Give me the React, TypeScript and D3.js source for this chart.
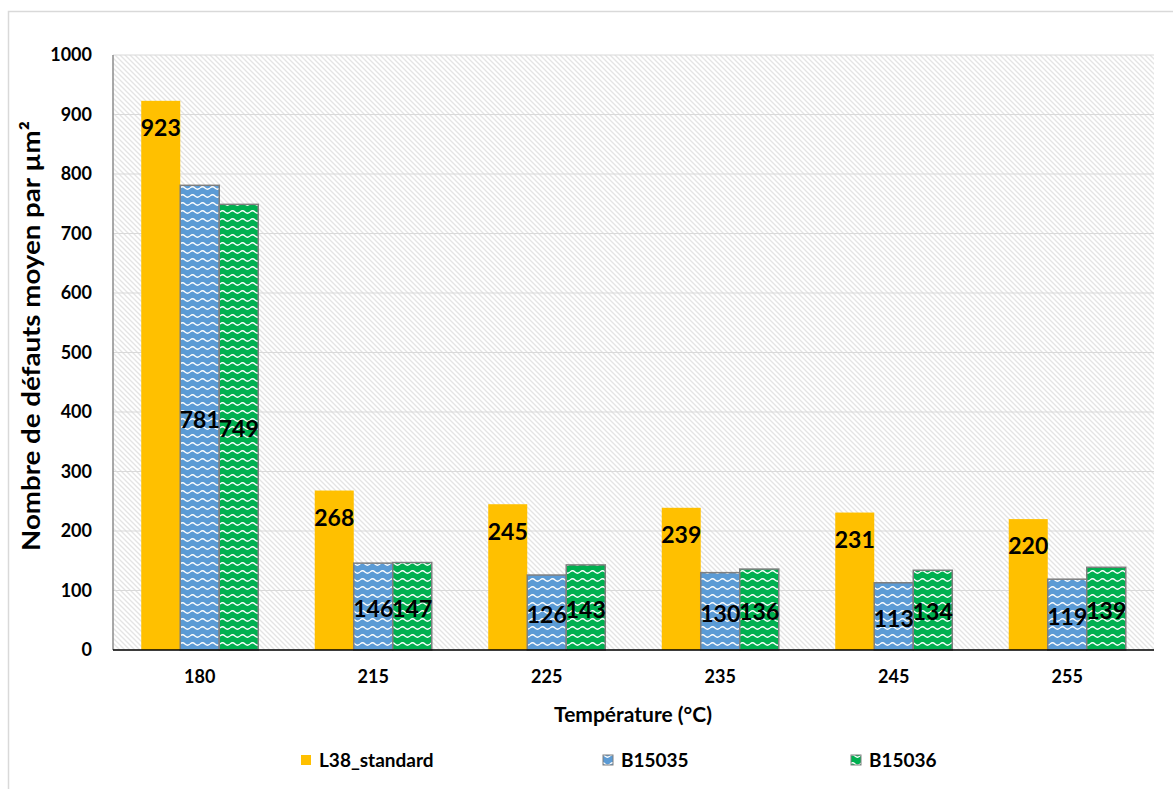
import React from "react";
import * as d3 from "d3";

const categories = ["180", "215", "225", "235", "245", "255"];
const seriesNames = ["L38_standard", "B15035", "B15036"];
const l38Values = [923, 268, 245, 239, 231, 220];
const b15035Values = [781, 146, 126, 130, 113, 119];
const b15036Values = [749, 147, 143, 136, 134, 139];
const yTicks = [0, 100, 200, 300, 400, 500, 600, 700, 800, 900, 1000];

const W = 1173;
const H = 789;
const M = { left: 113, right: 1154, top: 55, bottom: 650 };
const FONT = "Lato, 'Open Sans', sans-serif";

export default function App() {
  const seriesData = [l38Values, b15035Values, b15036Values];
  const x0 = d3.scaleBand<string>().domain(categories).range([M.left, M.right]).padding(0);
  const x1 = d3
    .scaleBand<string>()
    .domain(seriesNames)
    .range([0, x0.bandwidth()])
    .paddingInner(0)
    .paddingOuter(0.724);
  const y = d3.scaleLinear().domain([0, 1000]).range([M.bottom, M.top]);
  const fills = ["#FFC000", "url(#waveBlue)", "url(#waveGreen)"];
  const strokes = ["none", "#7f7f7f", "#7f7f7f"];
  const legendX = [301, 603, 851];

  return (
    <svg width={W} height={H} style={{ position: "absolute", left: 0, top: 0 }} fontFamily={FONT}>
      <defs>
        <pattern id="diag" patternUnits="userSpaceOnUse" width={5} height={5}>
          <rect width={5} height={5} fill="#ffffff" />
          <path d="M0,0 L5,5 M-1,4 L1,6 M4,-1 L6,1" stroke="#e4e4e4" strokeWidth={1.3} />
        </pattern>
        <pattern id="waveBlue" patternUnits="userSpaceOnUse" width={10} height={8}>
          <rect width={10} height={8} fill="#5B9BD5" />
          <path d="M0,4 Q2.5,1.5 5,4 T10,4" fill="none" stroke="#ffffff" strokeWidth={1.2} />
        </pattern>
        <pattern id="waveGreen" patternUnits="userSpaceOnUse" width={10} height={8}>
          <rect width={10} height={8} fill="#00B050" />
          <path d="M0,4 Q2.5,1.5 5,4 T10,4" fill="none" stroke="#ffffff" strokeWidth={1.2} />
        </pattern>
      </defs>

      <rect x={0} y={0} width={W} height={H} fill="#ffffff" />
      <rect x={8.5} y={11.5} width={1175} height={800} fill="none" stroke="#d9d9d9" strokeWidth={1.5} />

      {/* plot background */}
      <rect x={M.left} y={M.top} width={M.right - M.left} height={M.bottom - M.top} fill="url(#diag)" />

      {/* gridlines */}
      {yTicks.map((t) => (
        <line key={"g" + t} x1={M.left} x2={M.right} y1={y(t)} y2={y(t)} stroke="#d9d9d9" strokeWidth={1} />
      ))}

      {/* y tick labels */}
      {yTicks.map((t) => (
        <text key={"t" + t} x={92} y={y(t)} dy="0.35em" textAnchor="end" fontSize={18} fontWeight="bold" fill="#000">
          {t}
        </text>
      ))}

      {/* bars */}
      {categories.map((c, ci) =>
        seriesNames.map((s, si) => {
          const v = seriesData[si][ci];
          const bx = (x0(c) as number) + (x1(s) as number);
          return (
            <rect
              key={c + s}
              x={bx}
              y={y(v)}
              width={x1.bandwidth()}
              height={y(0) - y(v)}
              fill={fills[si]}
              stroke={strokes[si]}
              strokeWidth={1.5}
            />
          );
        })
      )}

      {/* axes */}
      <line x1={M.left} x2={M.left} y1={M.top} y2={M.bottom} stroke="#8c8c8c" strokeWidth={1.5} />
      <line x1={M.left} x2={M.right} y1={M.bottom} y2={M.bottom} stroke="#000" strokeWidth={1.5} />

      {/* data labels */}
      {categories.map((c, ci) =>
        seriesNames.map((s, si) => {
          const v = seriesData[si][ci];
          const cx = (x0(c) as number) + (x1(s) as number) + x1.bandwidth() / 2;
          const cy = si === 0 ? y(v) + 27 : (y(v) + y(0)) / 2 + 2;
          return (
            <text key={"l" + c + s} x={cx} y={cy} dy="0.36em" textAnchor="middle" fontSize={23} fontWeight="bold" fill="#000">
              {v}
            </text>
          );
        })
      )}

      {/* category labels */}
      {categories.map((c) => (
        <text
          key={"c" + c}
          x={(x0(c) as number) + x0.bandwidth() / 2}
          y={677}
          dy="0.35em"
          textAnchor="middle"
          fontSize={18}
          fontWeight="bold"
          fill="#000"
        >
          {c}
        </text>
      ))}

      {/* axis titles */}
      <text x={633} y={715} dy="0.35em" textAnchor="middle" fontSize={21} fontWeight="bold" fill="#000">
        Température (°C)
      </text>
      <text
        transform={`translate(31, 336) rotate(-90)`}
        dy="0.35em"
        textAnchor="middle"
        fontSize={25}
        fontWeight="bold"
        fill="#000"
        textLength={430}
        lengthAdjust="spacingAndGlyphs"
      >
        Nombre de défauts moyen par µm²
      </text>

      {/* legend */}
      {seriesNames.map((s, si) => (
        <g key={"leg" + s}>
          <rect
            x={legendX[si]}
            y={755}
            width={10}
            height={10}
            fill={fills[si]}
            stroke={si === 0 ? "none" : "#7f7f7f"}
            strokeWidth={1}
          />
          <text x={legendX[si] + 18} y={760} dy="0.35em" fontSize={19} fontWeight="bold" fill="#000">
            {s}
          </text>
        </g>
      ))}
    </svg>
  );
}
